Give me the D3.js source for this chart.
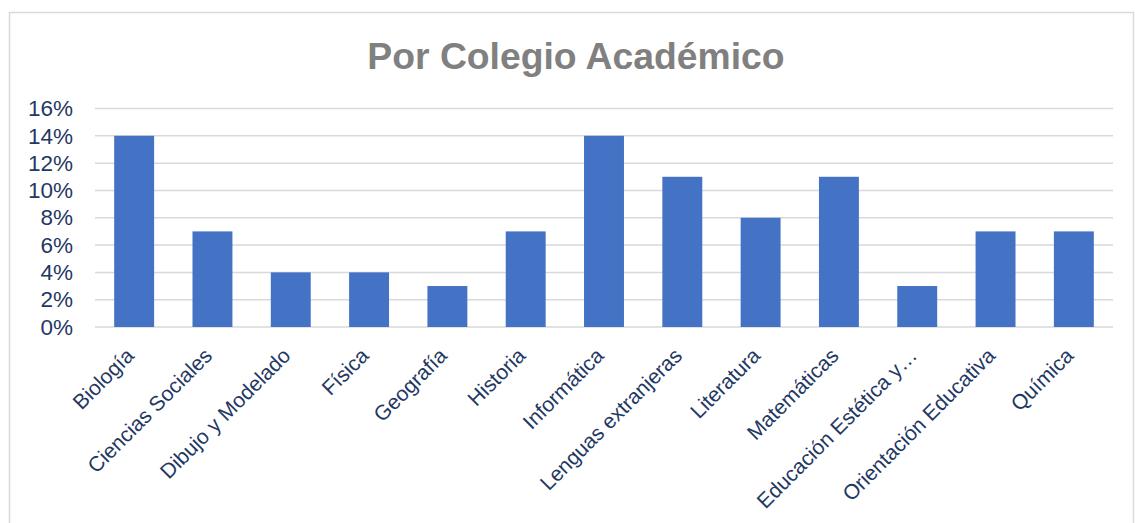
<!DOCTYPE html>
<html>
<head>
<meta charset="utf-8">
<script src="https://cdn.jsdelivr.net/npm/d3@7"></script>
<style>
  html, body { margin: 0; padding: 0; background: #fff; }
  svg { display: block; font-family: "Liberation Sans", Arial, sans-serif; }
</style>
</head>
<body>
<div id="chart"></div>
<script>
const categories = ["Biología", "Ciencias Sociales", "Dibujo y Modelado", "Física", "Geografía",
  "Historia", "Informática", "Lenguas extranjeras", "Literatura", "Matemáticas",
  "Educación Estética y…", "Orientación Educativa", "Química"];
const shares = [14, 7, 4, 4, 3, 7, 14, 11, 8, 11, 3, 7, 7];
const yTicks = [0, 2, 4, 6, 8, 10, 12, 14, 16];

const WIDTH = 1135;
const HEIGHT = 523;
const BAR_COLOR = "#4472c4";
const TEXT_COLOR = "#1f3864";
const GRID_COLOR = "#d9d9d9";
const margin = {top: 108.5, right: 22, bottom: 196, left: 95};

const svg = d3.select("#chart").append("svg")
    .attr("width", WIDTH)
    .attr("height", HEIGHT);

// chart frame
svg.append("rect")
    .attr("x", 9.5).attr("y", 12.5)
    .attr("width", 1124).attr("height", 530)
    .attr("fill", "none")
    .attr("stroke", GRID_COLOR)
    .attr("stroke-width", 1.5);

svg.append("text")
    .text("Por Colegio Académico")
    .attr("x", 576).attr("y", 69)
    .attr("text-anchor", "middle")
    .attr("font-size", 37.3)
    .attr("font-weight", "bold")
    .attr("fill", "#808080");

const x = d3.scaleBand()
    .domain(categories)
    .range([margin.left, WIDTH - margin.right])
    .paddingInner(0.49)
    .paddingOuter(0.245);

const y = d3.scaleLinear()
    .domain([0, 16])
    .range([HEIGHT - margin.bottom, margin.top]);

// gridlines
svg.append("g")
    .selectAll("line")
    .data(yTicks)
    .join("line")
    .attr("x1", margin.left)
    .attr("x2", WIDTH - margin.right)
    .attr("y1", d => y(d))
    .attr("y2", d => y(d))
    .attr("stroke", GRID_COLOR)
    .attr("stroke-width", 1.5);

// y axis labels
const yAxis = svg.append("g")
    .attr("transform", `translate(${margin.left},0)`)
    .call(d3.axisLeft(y).tickValues(yTicks).tickFormat(d => d + "%").tickSize(0).tickPadding(22));
yAxis.select(".domain").remove();
yAxis.selectAll("text")
    .attr("font-size", 22.5)
    .attr("font-family", "Liberation Sans, Arial, sans-serif")
    .attr("fill", TEXT_COLOR);

// bars
svg.append("g")
    .selectAll("rect")
    .data(shares)
    .join("rect")
    .attr("x", (d, i) => x(categories[i]))
    .attr("y", d => y(d))
    .attr("width", x.bandwidth())
    .attr("height", d => y(0) - y(d))
    .attr("fill", BAR_COLOR);

// x axis labels, rotated
const xAxis = svg.append("g")
    .attr("transform", `translate(0,${y(0)})`)
    .call(d3.axisBottom(x).tickSize(0).tickPadding(0));
xAxis.select(".domain").remove();
xAxis.selectAll("text")
    .attr("font-size", 21)
    .attr("font-family", "Liberation Sans, Arial, sans-serif")
    .attr("fill", TEXT_COLOR)
    .attr("text-anchor", "end")
    .attr("dy", 0)
    .attr("transform", "translate(1,30) rotate(-45)");
</script>
</body>
</html>
